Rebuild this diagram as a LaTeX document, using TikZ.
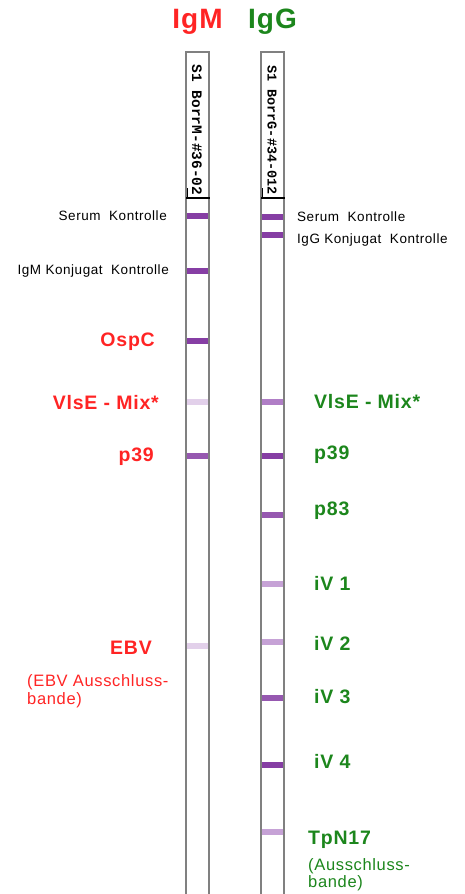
\documentclass[tikz,border=0pt]{standalone}
\usepackage{fontspec}
\setmainfont{Liberation Sans}[LetterSpace=4]
\newfontfamily\stripfont{Liberation Mono}
\definecolor{igmred}{RGB}{255,36,36}
\definecolor{iggreen}{RGB}{28,134,28}
\definecolor{stripgray}{RGB}{128,128,128}
\definecolor{bandA}{RGB}{134,62,164}
\definecolor{bandB}{RGB}{150,88,176}
\definecolor{bandC}{RGB}{176,126,198}
\definecolor{bandD}{RGB}{198,162,214}
\definecolor{bandE}{RGB}{226,208,234}
\newcommand{\drawband}{\node[minimum width=21pt,minimum height=6pt,inner sep=0]}
\newcommand{\drawleft}{\node[anchor=east,inner sep=0]}
\newcommand{\drawright}{\node[anchor=west,inner sep=0]}
\newcommand{\bigred}{\color{igmred}\bfseries\fontsize{19.5}{21}\selectfont}
\newcommand{\biggreen}{\color{iggreen}\bfseries\fontsize{19.5}{21}\selectfont}
\newcommand{\smalltxt}{\fontsize{13.5}{15}\selectfont}

\begin{document}
\begin{tikzpicture}[x=1pt, y=-1pt]
\useasboundingbox (0,0) rectangle (465,894);
%titles
\node[igmred, font=\bfseries\fontsize{28}{30}\selectfont] (tM) at (197.5,22) {IgM};
\node[iggreen, font=\bfseries\fontsize{28}{30}\selectfont] (tG) at (272.5,22) {IgG};

%strips
\coordinate (stripMtop) at (197.5,52);
\coordinate (stripGtop) at (272.5,52);
\draw[stripgray, line width=1.3pt] (186,894) -- (186,52) -- (209,52) -- (209,894);
\draw[stripgray, line width=1.3pt] (261,894) -- (261,52) -- (284,52) -- (284,894);
\node[rotate=-90, font=\stripfont\bfseries\fontsize{14.5}{15}\selectfont] (idM) at (197,130) {S1 BorrM-\#36-02};
\node[rotate=-90, font=\stripfont\bfseries\fontsize{13.5}{14}\selectfont] (idG) at (272,130) {S1 BorrG-\#34-012};
\draw[line width=2.2pt] (186,198) -- (210,198);
\draw[line width=1.5pt] (187.5,188) -- (187.5,198);
\draw[line width=2.2pt] (261,198) -- (285,198);
\draw[line width=1.5pt] (262.5,188) -- (262.5,198);

%IgM bands
\drawband[fill=bandA] (mSerum) at (197.5,216) {};
\drawband[fill=bandA] (mKonj) at (197.5,271) {};
\drawband[fill=bandA] (mOspC) at (197.5,341) {};
\drawband[fill=bandE] (mVlsE) at (197.5,402) {};
\drawband[fill=bandB] (mp39) at (197.5,456) {};
\drawband[fill=bandE] (mEBV) at (197.5,646) {};

%IgG bands
\drawband[fill=bandA] (gSerum) at (272.5,217) {};
\drawband[fill=bandA] (gKonj) at (272.5,235) {};
\drawband[fill=bandC] (gVlsE) at (272.5,402) {};
\drawband[fill=bandA] (gp39) at (272.5,456) {};
\drawband[fill=bandB] (gp83) at (272.5,515) {};
\drawband[fill=bandD] (giV1) at (272.5,584) {};
\drawband[fill=bandD] (giV2) at (272.5,642) {};
\drawband[fill=bandB] (giV3) at (272.5,698) {};
\drawband[fill=bandA] (giV4) at (272.5,765) {};
\drawband[fill=bandD] (gTpN) at (272.5,832) {};

%IgM labels
\drawleft (lSerum) at (167,216) {\smalltxt Serum\ \ Kontrolle};
\drawleft (lKonj) at (169,271) {\smalltxt IgM Konjugat\ \ Kontrolle};
\drawleft (lOspC) at (155,342) {\bigred OspC};
\drawleft (lVlsE) at (159,403) {\bigred VlsE - Mix*};
\drawleft (lp39) at (154,457) {\bigred p39};
\drawleft (lEBV) at (152,648) {\bigred EBV};
\node[anchor=west, inner sep=0, align=left, igmred, font=\fontsize{16.5}{18}\selectfont] (lEBVnote) at (27,691) {(EBV Ausschluss-\\bande)};

%IgG labels
\drawright (rSerum) at (297,217) {\smalltxt Serum\ \ Kontrolle};
\drawright (rKonj) at (297,240) {\smalltxt IgG Konjugat\ \ Kontrolle};
\drawright (rVlsE) at (314,402) {\biggreen VlsE - Mix*};
\drawright (rp39) at (314,455) {\biggreen p39};
\drawright (rp83) at (314,511) {\biggreen p83};
\drawright (riV1) at (314,583) {\biggreen iV 1};
\drawright (riV2) at (314,643) {\biggreen iV 2};
\drawright (riV3) at (314,697) {\biggreen iV 3};
\drawright (riV4) at (314,761) {\biggreen iV 4};
\drawright (rTpN) at (308,840) {\biggreen TpN17};
\node[anchor=west, inner sep=0, align=left, iggreen, font=\fontsize{16.5}{17}\selectfont] (rTpNnote) at (308,875) {(Ausschluss-\\bande)};
\end{tikzpicture}
\end{document}
